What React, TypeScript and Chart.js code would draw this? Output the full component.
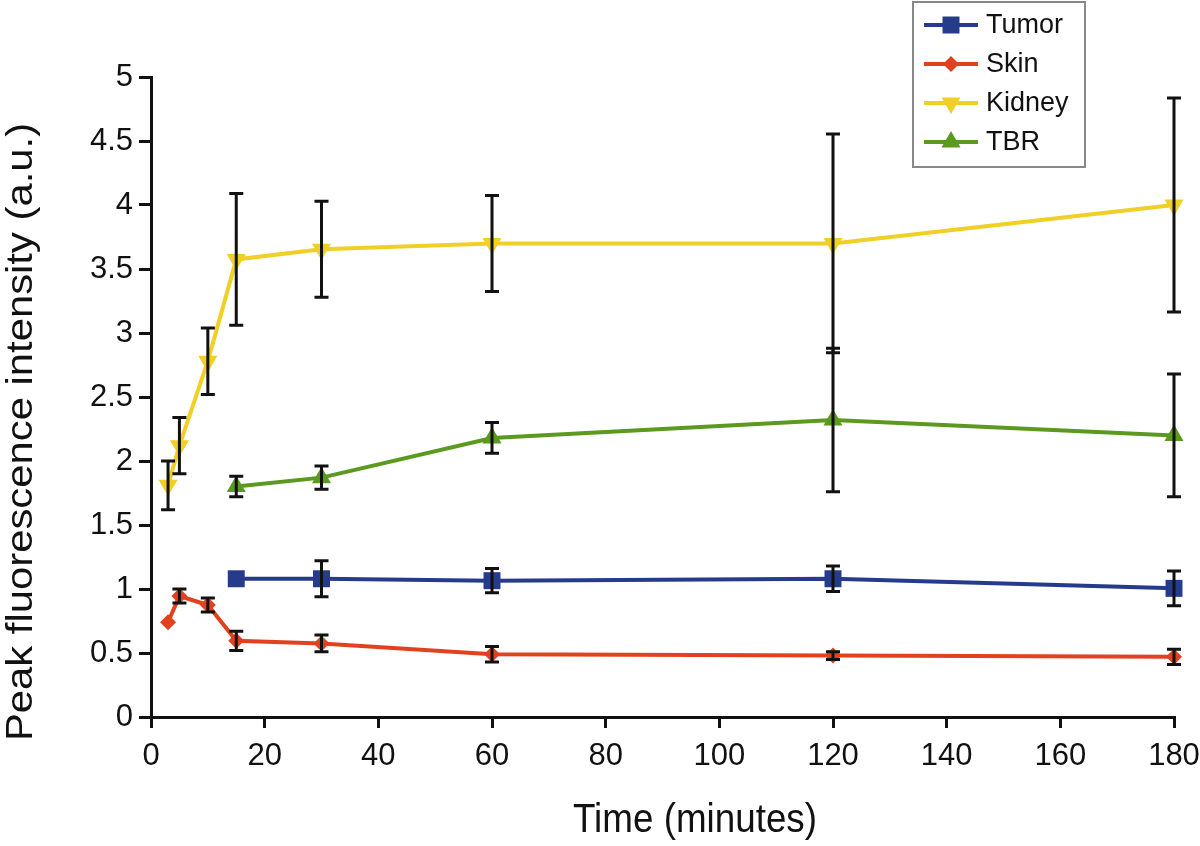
import React, { useEffect, useRef } from 'react';
import { Chart, registerables } from 'chart.js';
Chart.register(...registerables);

const timeSkinKidney = [3, 5, 10, 15, 30, 60, 120, 180];
const timeTumorTBR = [15, 30, 60, 120, 180];
const tumorMean = [1.08, 1.08, 1.065, 1.08, 1.005];
const tumorErr = [0, 0.14, 0.095, 0.1, 0.135];
const skinMean = [0.74, 0.945, 0.875, 0.595, 0.575, 0.49, 0.48, 0.47];
const skinErr = [0, 0.055, 0.055, 0.075, 0.065, 0.06, 0.03, 0.06];
const kidneyMean = [1.81, 2.12, 2.78, 3.575, 3.655, 3.7, 3.7, 4.0];
const kidneyErr = [0.19, 0.22, 0.26, 0.515, 0.375, 0.375, 0.855, 0.835];
const tbrMean = [1.8, 1.87, 2.18, 2.32, 2.2];
const tbrErr = [0.08, 0.09, 0.12, 0.56, 0.48];
const seriesNames = ['Tumor', 'Skin', 'Kidney', 'TBR'];
const seriesColors = ['#253b8c', '#e2411f', '#f0cf26', '#5b9a1f'];
const xTitle = 'Time (minutes)';
const yTitle = 'Peak fluorescence intensity (a.u.)';
const xTickStep = 20;
const yTickStep = 0.5;

const FONT = "'Liberation Sans', Arial, sans-serif";

function pts(xs: number[], ys: number[]) {
  return xs.map((x, i) => ({ x, y: ys[i] }));
}

function drawMarker(ctx: CanvasRenderingContext2D, style: string, x: number, y: number, r: number, rot: number) {
  ctx.beginPath();
  if (style === 'rect') {
    const s = Math.SQRT1_2 * r;
    ctx.rect(x - s, y - s, 2 * s, 2 * s);
  } else if (style === 'rectRot') {
    ctx.moveTo(x, y - r);
    ctx.lineTo(x + r, y);
    ctx.lineTo(x, y + r);
    ctx.lineTo(x - r, y);
    ctx.closePath();
  } else if (style === 'triangle') {
    const a0 = (rot * Math.PI) / 180;
    for (let k = 0; k < 3; k++) {
      const a = a0 + (k * 2 * Math.PI) / 3;
      const px = x + Math.sin(a) * r;
      const py = y - Math.cos(a) * r;
      if (k === 0) ctx.moveTo(px, py);
      else ctx.lineTo(px, py);
    }
    ctx.closePath();
  }
  ctx.fill();
}

const errorBarPlugin = {
  id: 'errorBars',
  afterDatasetsDraw(chart: any) {
    const ctx = chart.ctx;
    const ys = chart.scales.y;
    const xs = chart.scales.x;
    ctx.save();
    ctx.strokeStyle = '#111';
    ctx.lineWidth = 3;
    chart.data.datasets.forEach((ds: any) => {
      const errs: number[] = ds.errors || [];
      ds.data.forEach((p: any, i: number) => {
        const e = errs[i];
        if (!e) return;
        const px = xs.getPixelForValue(p.x);
        const top = ys.getPixelForValue(p.y + e);
        const bot = ys.getPixelForValue(p.y - e);
        ctx.beginPath();
        ctx.moveTo(px, top);
        ctx.lineTo(px, bot);
        ctx.moveTo(px - 7, top);
        ctx.lineTo(px + 7, top);
        ctx.moveTo(px - 7, bot);
        ctx.lineTo(px + 7, bot);
        ctx.stroke();
      });
    });
    ctx.restore();
  },
};

const extrasPlugin = {
  id: 'extras',
  afterDraw(chart: any) {
    const ctx = chart.ctx;
    ctx.save();
    ctx.fillStyle = '#111';
    // x axis title
    ctx.save();
    ctx.font = `40px ${FONT}`;
    ctx.textAlign = 'center';
    ctx.textBaseline = 'alphabetic';
    ctx.translate(695, 832);
    ctx.scale(0.92, 1);
    ctx.fillText(xTitle, 0, 0);
    ctx.restore();
    // y axis title
    ctx.save();
    ctx.font = `37px ${FONT}`;
    ctx.textAlign = 'center';
    ctx.textBaseline = 'alphabetic';
    ctx.translate(32, 432);
    ctx.rotate(-Math.PI / 2);
    ctx.scale(1.13, 1);
    ctx.fillText(yTitle, 0, 0);
    ctx.restore();
    // legend box
    ctx.strokeStyle = '#888';
    ctx.lineWidth = 2;
    ctx.fillStyle = '#fff';
    ctx.fillRect(913, 2, 172, 165);
    ctx.strokeRect(913, 2, 172, 165);
    const styles = ['rect', 'rectRot', 'triangle', 'triangle'];
    const rots = [0, 0, 180, 0];
    const radii = [12, 8, 11, 11];
    chart.data.datasets.forEach((ds: any, i: number) => {
      const cy = 25 + i * 39;
      ctx.strokeStyle = ds.borderColor;
      ctx.lineWidth = 4;
      ctx.beginPath();
      ctx.moveTo(924, cy);
      ctx.lineTo(978, cy);
      ctx.stroke();
      ctx.fillStyle = ds.borderColor;
      drawMarker(ctx, styles[i], 951, cy, radii[i], rots[i]);
      ctx.fillStyle = '#111';
      ctx.font = `27px ${FONT}`;
      ctx.textAlign = 'left';
      ctx.textBaseline = 'middle';
      ctx.fillText(ds.label, 986, cy + 1);
    });
    ctx.restore();
  },
};

export default function App() {
  const ref = useRef<HTMLCanvasElement>(null);
  useEffect(() => {
    if (!ref.current) return;
    const mk = (i: number, data: any[], errors: number[], pointStyle: string, radius: number, rot: number) => ({
      label: seriesNames[i],
      data,
      errors,
      borderColor: seriesColors[i],
      backgroundColor: seriesColors[i],
      borderWidth: 4,
      pointStyle,
      pointRadius: radius,
      pointRotation: rot,
      pointBorderWidth: 0,
      pointBackgroundColor: seriesColors[i],
      tension: 0,
      clip: false,
    });
    const chart = new Chart(ref.current, {
      type: 'line',
      data: {
        datasets: [
          mk(0, pts(timeTumorTBR, tumorMean), tumorErr, 'rect', 12, 0),
          mk(1, pts(timeSkinKidney, skinMean), skinErr, 'rectRot', 8, 0),
          mk(2, pts(timeSkinKidney, kidneyMean), kidneyErr, 'triangle', 11, 180),
          mk(3, pts(timeTumorTBR, tbrMean), tbrErr, 'triangle', 11, 0),
        ] as any,
      },
      options: {
        animation: false,
        responsive: true,
        maintainAspectRatio: false,
        layout: { padding: { left: 0, top: 77, right: 26, bottom: 0 } },
        plugins: { legend: { display: false }, tooltip: { enabled: false } },
        scales: {
          x: {
            type: 'linear',
            min: 0,
            max: 180,
            afterFit: (s: any) => { s.height = 129; s.paddingLeft = 0; s.paddingRight = 0; },
            ticks: { stepSize: xTickStep, color: '#111', font: { family: FONT, size: 31 }, padding: 10, maxRotation: 0, autoSkip: false },
            grid: { drawOnChartArea: false, drawTicks: true, tickLength: 11, color: '#111', lineWidth: 3 },
            border: { display: true, color: '#111', width: 3 },
          },
          y: {
            type: 'linear',
            min: 0,
            max: 5,
            afterFit: (s: any) => { s.width = 151; s.paddingTop = 0; s.paddingBottom = 0; },
            ticks: { stepSize: yTickStep, color: '#111', font: { family: FONT, size: 31 }, padding: 6, autoSkip: false, callback: (v: any) => String(v) },
            grid: { drawOnChartArea: false, drawTicks: true, tickLength: 12, color: '#111', lineWidth: 3 },
            border: { display: true, color: '#111', width: 3 },
          },
        },
      },
      plugins: [errorBarPlugin, extrasPlugin],
    });
    return () => chart.destroy();
  }, []);
  return (
    <div style={{ position: 'absolute', left: 0, top: 0, width: 1200, height: 846, background: '#fff' }}>
      <canvas ref={ref} />
    </div>
  );
}
